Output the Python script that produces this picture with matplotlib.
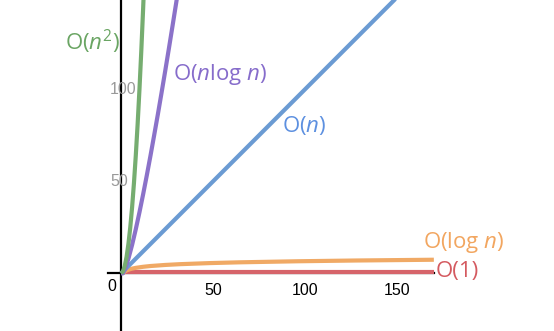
import matplotlib
matplotlib.use('Agg')

import matplotlib.pyplot as plt

# growth curves, values read per n
n_const = [0, 170]
y_const = [1, 1]

n_log = [1, 2, 3, 4, 6, 8, 12, 16, 24, 32, 48, 64, 96, 128, 170]
y_log = [0, 1, 1.58, 2, 2.58, 3, 3.58, 4, 4.58, 5, 5.58, 6, 6.58, 7, 7.41]

n_lin = [0, 170]
y_lin = [0, 170]

n_nlog = [0, 1, 2, 4, 6, 8, 10, 12, 14, 16, 18, 20, 22, 24, 26, 28, 30, 32]
y_nlog = [0, 0, 2, 8, 15.5, 24, 33.2, 43, 53.3, 64, 75.1, 86.4, 98.1, 110,
          122.2, 134.6, 147.2, 160]

n_sq = [0, 1, 2, 3, 4, 5, 6, 7, 8, 9, 10, 11, 12, 13]
y_sq = [0, 1, 4, 9, 16, 25, 36, 49, 64, 81, 100, 121, 144, 169]

x_ticks = [50, 100, 150]
y_ticks = [50, 100]

green = '#76ad70'
purple = '#8b72c9'
blue = '#6b9bd3'
orange = '#f0a965'
red = '#d6646a'

plt.rcParams['mathtext.fontset'] = 'custom'
plt.rcParams['mathtext.rm'] = 'Open Sans'
plt.rcParams['mathtext.it'] = 'Open Sans:italic'

fig = plt.figure(figsize=(5.54, 3.31), dpi=100)
ax = fig.add_axes([0, 0, 1, 1])
ax.set_xlim(-65.8, 235.3)
ax.set_ylim(-31.3, 148.5)

lw = 3.0
ax.plot(n_const, y_const, color=red, lw=lw, solid_capstyle='butt', zorder=3)
ax.plot(n_log, y_log, color=orange, lw=lw, solid_capstyle='butt', zorder=3)
ax.plot(n_lin, y_lin, color=blue, lw=lw, solid_capstyle='butt', zorder=3)
ax.plot(n_nlog, y_nlog, color=purple, lw=lw, solid_capstyle='butt', zorder=3)
ax.plot(n_sq, y_sq, color=green, lw=lw, solid_capstyle='butt', zorder=3)

# axes through the origin
for side in ['top', 'right']:
    ax.spines[side].set_visible(False)
ax.spines['left'].set_position(('data', 0))
ax.spines['bottom'].set_position(('data', 0))
ax.spines['bottom'].set_bounds(-7, 170)
ax.spines['left'].set_linewidth(1.6)
ax.spines['bottom'].set_linewidth(1.6)

ax.set_xticks(x_ticks)
ax.set_xticklabels([str(t) for t in x_ticks], family='Liberation Sans', fontsize=11.5)
ax.tick_params(axis='x', length=0, pad=7)
ax.set_yticks([])
ax.text(-5, -7, '0', family='Liberation Sans', fontsize=11.5, ha='center', va='center')
for t in y_ticks:
    ax.text(-6, t, str(t), family='Liberation Sans', fontsize=11.5, color='#999999',
            ha='left', va='center', zorder=4)

tkw = dict(fontsize=16, family='Open Sans', va='center')
ax.text(-0.5, 125.8, r'O($n^2$)', color='#6aa563', ha='right', **tkw)
ax.text(28.3, 108, r'O($n$log $n$)', color='#866ccb', ha='left', **tkw)
ax.text(87.5, 80.2, r'O($n$)', color='#5d90e0', ha='left', **tkw)
ax.text(164, 17, r'O(log $n$)', color='#f2a660', ha='left', **tkw)
ax.text(171, 1, 'O(1)', color='#d45a60', ha='left', **tkw)

plt.savefig('out.png', dpi=100)
